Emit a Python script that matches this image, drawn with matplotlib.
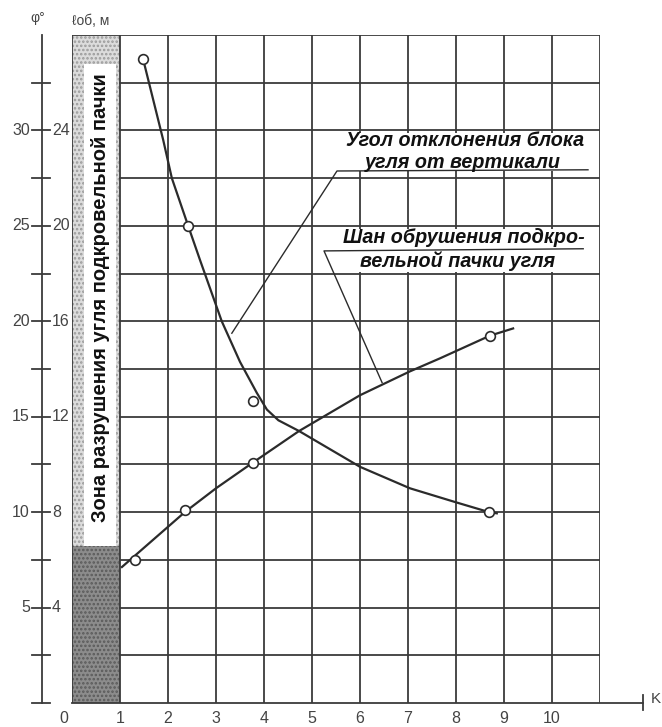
import matplotlib
matplotlib.use("Agg")
import matplotlib.pyplot as plt
from matplotlib.patches import Rectangle

plt.rcParams['font.family'] = ['Liberation Sans', 'DejaVu Sans']
plt.rcParams['hatch.linewidth'] = 1.2

# angle of block deviation, C-axis units
angle_x = [1.48, 1.9, 2.08, 2.42, 2.67, 3.12, 3.5, 3.85, 4.06, 4.3, 4.73, 6.0, 7.04, 8.02, 8.69, 8.85]
angle_y = [27.0, 23.6, 22.0, 20.0, 18.55, 16.0, 14.3, 13.0, 12.3, 11.85, 11.4, 9.9, 9.0, 8.4, 8.0, 7.95]
angle_pts_x = [1.48, 2.42, 3.77, 8.69]
angle_pts_y = [27.0, 20.0, 12.64, 8.0]

# caving step of the sub-roof coal pack
step_x = [1.04, 2.35, 3.0, 3.77, 4.73, 6.0, 7.04, 7.67, 8.71, 9.19]
step_y = [5.7, 8.0, 9.0, 10.08, 11.4, 12.9, 13.9, 14.45, 15.4, 15.7]
step_pts_x = [1.31, 2.35, 3.77, 8.71]
step_pts_y = [6.0, 8.08, 10.08, 15.4]

x_ticks = [0, 1, 2, 3, 4, 5, 6, 7, 8, 9, 10]
c_ticks = [4, 8, 12, 16, 20, 24]
phi_labels = ["5", "10", "15", "20", "25", "30"]

line_col = "#2b2b2b"
grid_col = "#3a3a3a"
text_col = "#444444"

fig = plt.figure(figsize=(6.62, 7.27), dpi=100)
ax = fig.add_axes([72 / 662, 24 / 727, 528 / 662, 668 / 727])
ax.set_xlim(0, 11)
ax.set_ylim(0, 28)
ax.axis("off")

# zone of coal destruction (grey strip)
ax.add_patch(Rectangle((0, 6.57), 1, 21.43, facecolor="#dcdcdc", edgecolor="#9a9a9a",
                       hatch="....", lw=0, zorder=1))
ax.add_patch(Rectangle((0, 0), 1, 6.57, facecolor="#8c8c8c", edgecolor="#5a5a5a",
                       hatch="....", lw=0, zorder=1))
ax.add_patch(Rectangle((0.25, 6.57), 0.67, 20.23, facecolor="white", lw=0, zorder=2))
ax.text(0.585, 17.0, "Зона разрушения угля подкровельной пачки", rotation=90,
        ha="center", va="center", fontsize=14.5, fontweight="bold", color="#111111", zorder=3)

# grid
for gx in range(0, 12):
    ax.plot([gx, gx], [0, 28], color=grid_col, lw=1.3, zorder=2)
for gy in range(2, 29, 2):
    x0 = 0 if gy == 28 else 1
    ax.plot([x0, 11], [gy, gy], color=grid_col, lw=1.3, zorder=2)

# x axis with extension and end tick
ax.plot([0, 11.9], [0, 0], color=grid_col, lw=1.3, zorder=2, clip_on=False)
ax.plot([11.9, 11.9], [-0.3, 0.35], color=grid_col, lw=1.3, clip_on=False)
ax.text(12.05, 0.15, "K", fontsize=11, color=text_col, va="center", ha="left")
for xv in x_ticks:
    xp = -0.18 if xv == 0 else xv
    ax.text(xp, -0.65, str(xv), fontsize=11.5, color=text_col, ha="center", va="center")

# outer double axis (phi / C)
ax.plot([-0.625, -0.625], [0, 28], color=grid_col, lw=1.3, clip_on=False)
for ty in range(0, 28, 2):
    ax.plot([-0.83, -0.46], [ty, ty], color=grid_col, lw=1.3, clip_on=False)
for cv, pl in zip(c_ticks, phi_labels):
    ax.text(-0.88, cv, pl, fontsize=11.5, color=text_col, ha="right", va="center")
    ax.text(-0.42, cv, str(cv), fontsize=11.5, color=text_col, ha="left", va="center")
ax.text(-0.72, 28.7, "φ°", fontsize=10, color=text_col, ha="center", va="center")
ax.text(0.0, 28.6, "ℓоб, м", fontsize=10, color=text_col, ha="left", va="center")

# curves
ax.plot(angle_x, angle_y, color=line_col, lw=1.6, zorder=4)
ax.plot(angle_pts_x, angle_pts_y, "o", ms=7, mfc="white", mec=line_col, mew=1.2, zorder=5)
ax.plot(step_x, step_y, color=line_col, lw=1.6, zorder=4)
ax.plot(step_pts_x, step_pts_y, "o", ms=7, mfc="white", mec=line_col, mew=1.2, zorder=5)

# annotation boxes and leaders
ax.add_patch(Rectangle((5.44, 22.3), 5.39, 1.6, facecolor="white", lw=0, zorder=3))
ax.add_patch(Rectangle((5.31, 18.05), 5.6, 1.82, facecolor="white", lw=0, zorder=3))
ax.plot([3.33, 5.52, 10.75], [15.5, 22.3, 22.35], color=line_col, lw=1.0, zorder=4)
ax.plot([6.46, 5.25, 10.65], [13.43, 18.95, 19.04], color=line_col, lw=1.0, zorder=4)

lab = dict(fontsize=14.2, fontweight="bold", fontstyle="italic", color="#111111",
           ha="center", va="center", zorder=6)
ax.text(8.19, 23.56, "Угол отклонения блока", **lab)
ax.text(8.15, 22.65, "угля от вертикали", **lab)
ax.text(8.17, 19.5, "Шан обрушения подкро-", **lab)
ax.text(8.04, 18.54, "вельной пачки угля", **lab)

fig.savefig("out.png", dpi=100)
